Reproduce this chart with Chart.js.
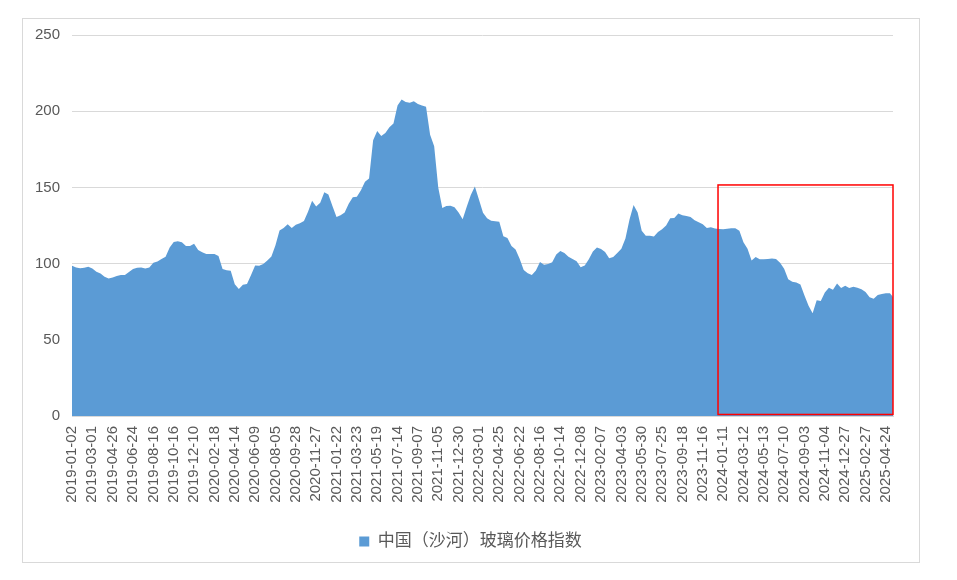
<!DOCTYPE html>
<html>
<head>
<meta charset="utf-8">
<script src="https://cdn.jsdelivr.net/npm/chart.js@4/dist/chart.umd.min.js"></script>
<style>
html,body{margin:0;padding:0;background:#fff;}
#wrap{position:relative;width:957px;height:580px;}
</style>
</head>
<body>
<div id="wrap"><canvas id="c" width="957" height="580"></canvas></div>
<script>
// ---- data ----
const seriesName = '中国（沙河）玻璃价格指数';
const tickLabels = [
'2019-01-02','2019-03-01','2019-04-26','2019-06-24','2019-08-16','2019-10-16','2019-12-10',
'2020-02-18','2020-04-14','2020-06-09','2020-08-05','2020-09-28','2020-11-27',
'2021-01-22','2021-03-23','2021-05-19','2021-07-14','2021-09-07','2021-11-05','2021-12-30',
'2022-03-01','2022-04-25','2022-06-22','2022-08-16','2022-10-14','2022-12-08',
'2023-02-07','2023-04-03','2023-05-30','2023-07-25','2023-09-18','2023-11-16',
'2024-01-11','2024-03-12','2024-05-13','2024-07-10','2024-09-03','2024-11-04','2024-12-27',
'2025-02-27','2025-04-24'
];
// index values sampled every 0.2 of a tick-label interval
const sampleStep = 0.2;
const indexValues = [
98.6,97.4,97,97.3,98,96.8,94.6,93.5,91.3,90.2,
90.8,91.8,92.5,92.6,94.5,96.5,97.3,97.4,96.8,97.4,
100.5,101.4,103,104.5,110.5,114.2,114.6,114,111.5,111.5,
113,109,107.5,106.3,106.3,106.3,105,96.5,95.6,95.3,
86.5,83.3,86.1,86.6,92.5,98.8,98.6,99.7,102,104.6,
112,121.7,123.3,125.8,123.4,125.5,126.4,128,134,141.2,
137.5,140,146.8,145.3,137.8,130.5,131.8,133.5,139.3,143.5,
143.9,148.2,153.7,155.9,181,187,183.8,185.7,189.4,192,
203.8,207.7,206,205.5,206.6,204.7,203.7,203,184.5,177,
150,136.5,137.8,138,137,133.5,129.1,137.3,145,150.6,
142,133.3,129.8,128.1,127.8,127.5,118,116.8,111.5,109.3,
103.2,95.8,93.7,92.5,95.5,101.1,99.3,99.7,100.9,106,
108.3,107,104.5,103.1,101.5,97.6,98.8,102.8,108,110.5,
109.5,107.6,103.5,104.4,107,109.7,116.5,129,138.5,133.5,
121.5,118.3,118.2,117.8,120.8,122.5,125,129.8,130,132.8,
131.8,131.3,130.6,128.5,127.2,125.8,123.4,123.9,123,122.7,
122.5,122.9,123.2,123.2,121.5,114,109.7,102,104.3,102.8,
102.9,103,103.4,103,100.5,96.7,89.8,88.1,87.6,86.3,
79,72.3,67.5,76,75.5,81,84.2,82.9,87,84,
85.5,84,84.8,84.2,83.2,81.4,77.9,77,79.4,80.1,
80.5,80.5,77.2
];
const xEnd = 40.35;           // last data position, in tick-label intervals
const yTicks = [0, 50, 100, 150, 200, 250];
// highlighted period (red box): start position in tick intervals, value range
const highlightStart = 31.75;
const highlightLow = 1;
const highlightHigh = 151.6;

// ---- build ----
const points = indexValues.map((v, i) => ({x: +(i * sampleStep).toFixed(2), y: v}));
const FONT = "'Liberation Sans', 'Noto Sans CJK SC', sans-serif";
const GREY = '#595959';

const frame = {
  id: 'frame',
  afterLayout(chart) {
    // centre the legend on the whole canvas rather than the padded area
    const lg = chart.legend;
    if (lg) { lg.left += 24; lg.right += 24; }
  },
  beforeDraw(chart) {
    const ctx = chart.ctx;
    ctx.save();
    ctx.strokeStyle = '#d9d9d9';
    ctx.lineWidth = 1;
    ctx.strokeRect(22.5, 18.5, 897, 544);
    ctx.restore();
  },
  afterDatasetsDraw(chart) {
    const {ctx, scales: {x, y}} = chart;
    const l = x.getPixelForValue(highlightStart);
    const r = x.getPixelForValue(xEnd);
    const t = y.getPixelForValue(highlightHigh);
    const b = y.getPixelForValue(highlightLow);
    ctx.save();
    ctx.strokeStyle = '#ff0000';
    ctx.lineWidth = 1.5;
    ctx.strokeRect(l, t, r - l, b - t);
    ctx.restore();
  }
};

new Chart(document.getElementById('c'), {
  type: 'line',
  data: {
    datasets: [{
      label: seriesName,
      data: points,
      fill: 'origin',
      backgroundColor: '#5B9BD5',
      borderColor: '#5B9BD5',
      borderWidth: 0,
      pointRadius: 0,
      tension: 0
    }]
  },
  options: {
    responsive: false,
    animation: false,
    events: [],
    layout: {padding: {left: 0, right: 64, top: 35, bottom: 20}},
    plugins: {
      legend: {
        position: 'bottom',
        labels: {
          boxWidth: 10, boxHeight: 10,
          color: GREY,
          font: {family: FONT, size: 17}
        }
      },
      tooltip: {enabled: false}
    },
    scales: {
      x: {
        type: 'linear',
        min: 0, max: xEnd,
        grid: {display: false, drawTicks: false},
        border: {display: true, color: '#d9d9d9'},
        afterFit(s) { s.height = 107; },
        afterBuildTicks(s) { s.ticks = tickLabels.map((_, i) => ({value: i})); },
        ticks: {
          autoSkip: false,
          minRotation: 90, maxRotation: 90,
          padding: 10,
          color: GREY,
          font: {family: FONT, size: 15},
          callback: (v) => tickLabels[v] ?? ''
        }
      },
      y: {
        min: 0, max: 250,
        afterFit(s) { s.width = 72; },
        afterBuildTicks(s) { s.ticks = yTicks.map(v => ({value: v})); },
        grid: {color: '#d9d9d9', drawTicks: false},
        border: {display: false},
        ticks: {
          padding: 12,
          color: GREY,
          font: {family: FONT, size: 15}
        }
      }
    }
  },
  plugins: [frame]
});
</script>
</body>
</html>
